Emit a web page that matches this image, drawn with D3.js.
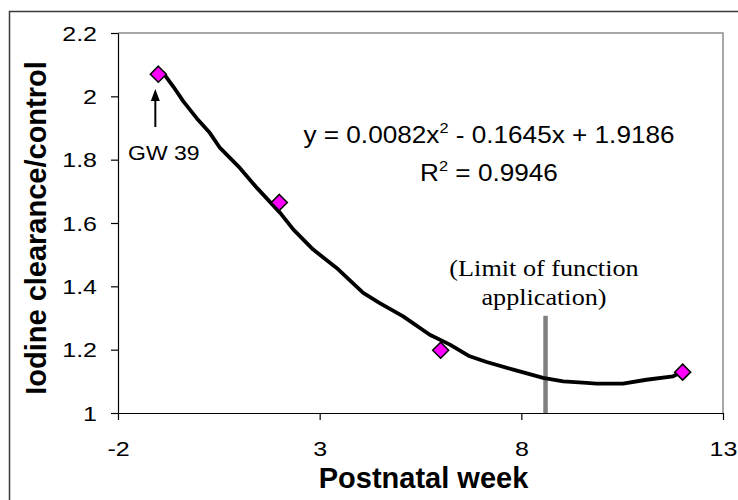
<!DOCTYPE html>
<html>
<head>
<meta charset="utf-8">
<script src="https://cdn.jsdelivr.net/npm/d3@7"></script>
<style>
  body { margin: 0; background: #fff; }
  svg { display: block; }
</style>
</head>
<body>
<div id="chart"></div>
<script>
// measured points (postnatal week vs. iodine clearance / control)
const weeks = [-1, 2, 6, 12];
const clearance = [2.07, 1.665, 1.198, 1.129];

// trendline as drawn in the figure
const trendX = [-0.88, -0.63, -0.38, -0.05, 0.28, 0.53, 1.02, 1.45, 2.02, 2.35, 2.84, 3.42, 4.08, 4.49, 5.07,
  5.73, 6.23, 6.72, 7.14, 7.80, 8.54, 9.04, 9.62, 9.86, 10.52, 11.10, 11.76, 12.01];
const trendY = [2.074, 2.031, 1.984, 1.931, 1.884, 1.837, 1.774, 1.710, 1.632, 1.579, 1.516, 1.458, 1.379, 1.347, 1.305,
  1.247, 1.216, 1.179, 1.161, 1.137, 1.111, 1.100, 1.095, 1.093, 1.093, 1.105, 1.116, 1.131];

const xTicks = [-2, 3, 8, 13];
const yTicks = [1, 1.2, 1.4, 1.6, 1.8, 2, 2.2];
const limitWeek = 8.6;
const limitTop = 1.307;

const width = 738;
const height = 500;
const plot = { left: 118, right: 723, top: 33, bottom: 413 };

const x = d3.scaleLinear().domain([-2, 13]).range([plot.left, plot.right]);
const y = d3.scaleLinear().domain([1, 2.2]).range([plot.bottom, plot.top]);

const svg = d3.select('#chart')
    .append('svg')
    .attr('width', width)
    .attr('height', height);

svg.append('rect').attr('width', width).attr('height', height).attr('fill', '#fff');

// outer chart frame (only top and left edges visible)
svg.append('path')
    .attr('d', `M9.5,${height + 5}V11.5H${width + 5}`)
    .attr('fill', 'none')
    .attr('stroke', '#3a3a3a')
    .attr('stroke-width', 1.5);

// plot area top / right border
svg.append('path')
    .attr('d', `M${plot.left},${plot.top}H${plot.right}V${plot.bottom}`)
    .attr('fill', 'none')
    .attr('stroke', '#8c8c8c')
    .attr('stroke-width', 1.5);

// axes
const xAxis = svg.append('g')
    .attr('transform', `translate(0,${plot.bottom})`)
    .call(d3.axisBottom(x).tickValues(xTicks).tickSize(7).tickSizeOuter(0).tickFormat(d => String(d)));

const yAxis = svg.append('g')
    .attr('transform', `translate(${plot.left},0)`)
    .call(d3.axisLeft(y).tickValues(yTicks).tickSize(7).tickSizeOuter(0).tickFormat(d => String(d)));

[xAxis, yAxis].forEach(g => {
    g.select('.domain').attr('stroke', '#000').attr('stroke-width', 1.2);
    g.selectAll('.tick line').attr('stroke', '#000').attr('stroke-width', 1.2);
    g.selectAll('.tick text')
        .attr('fill', '#000')
        .style('font-family', 'Liberation Sans, Arial, sans-serif')
        .style('font-size', '20px');
});

// tick labels in the figure are a bit wider than plain Arial
xAxis.selectAll('.tick text')
    .attr('y', 0)
    .attr('dy', 0)
    .attr('transform', 'translate(0,43) scale(1.25,1)');
yAxis.selectAll('.tick text')
    .attr('x', 0)
    .attr('dy', '0.35em')
    .attr('transform', 'translate(-21,0) scale(1.25,1)');

// limit of function application marker
svg.append('line')
    .attr('x1', x(limitWeek)).attr('x2', x(limitWeek))
    .attr('y1', y(limitTop)).attr('y2', plot.bottom)
    .attr('stroke', '#808080')
    .attr('stroke-width', 4.5);

// trendline
const trend = trendX.map((d, i) => [d, trendY[i]]);
svg.append('path')
    .datum(trend)
    .attr('fill', 'none')
    .attr('stroke', '#000')
    .attr('stroke-width', 3.8)
    .attr('stroke-linejoin', 'round')
    .attr('stroke-linecap', 'round')
    .attr('d', d3.line().x(d => x(d[0])).y(d => y(d[1])).curve(d3.curveLinear));

// diamonds
const pts = weeks.map((d, i) => [d, clearance[i]]);
svg.selectAll('.pt')
    .data(pts)
    .enter()
    .append('path')
    .attr('class', 'pt')
    .attr('transform', d => `translate(${x(d[0])},${y(d[1])})`)
    .attr('d', 'M0,-8L8,0L0,8L-8,0Z')
    .attr('fill', '#ff00ff')
    .attr('stroke', '#000')
    .attr('stroke-width', 1.5);

// GW 39 arrow
const gwX = x(weeks[0]) - 3;
svg.append('line')
    .attr('x1', gwX).attr('x2', gwX)
    .attr('y1', 127).attr('y2', 98)
    .attr('stroke', '#000')
    .attr('stroke-width', 2);
svg.append('path')
    .attr('d', `M${gwX},89L${gwX - 4.5},101L${gwX + 4.5},101Z`)
    .attr('fill', '#000');

const sans = 'Liberation Sans, Arial, sans-serif';

svg.append('text')
    .attr('transform', 'translate(128,160) scale(1.15,1)')
    .style('font-family', sans)
    .style('font-size', '20px')
    .text('GW 39');

// trendline equation
const eq = svg.append('g').attr('transform', 'translate(489,0) scale(1.09,1)')
    .style('font-family', sans)
    .style('font-size', '24px')
    .attr('text-anchor', 'middle');

const eq1 = eq.append('text').attr('y', 143);
eq1.append('tspan').text('y = 0.0082x');
eq1.append('tspan').attr('dy', -10).style('font-size', '15px').text('2');
eq1.append('tspan').attr('dy', 10).text(' - 0.1645x + 1.9186');

const eq2 = eq.append('text').attr('y', 181);
eq2.append('tspan').text('R');
eq2.append('tspan').attr('dy', -10).style('font-size', '15px').text('2');
eq2.append('tspan').attr('dy', 10).text(' = 0.9946');

// limit note
const note = svg.append('g').attr('transform', 'translate(544,0) scale(1.14,1)')
    .style('font-family', 'Liberation Serif, Times New Roman, serif')
    .style('font-size', '23px')
    .attr('text-anchor', 'middle')
    .attr('fill', '#000');
note.append('text').attr('y', 276).text('(Limit of function');
note.append('text').attr('y', 305).text('application)');

// axis titles
svg.append('text')
    .attr('x', (plot.left + plot.right) / 2 + 3)
    .attr('y', 488)
    .attr('text-anchor', 'middle')
    .style('font-family', sans)
    .style('font-size', '29px')
    .style('font-weight', 'bold')
    .text('Postnatal week');

svg.append('text')
    .attr('transform', 'translate(46,228) rotate(-90)')
    .attr('text-anchor', 'middle')
    .style('font-family', sans)
    .style('font-size', '29px')
    .style('font-weight', 'bold')
    .text('Iodine clearance/control');
</script>
</body>
</html>
